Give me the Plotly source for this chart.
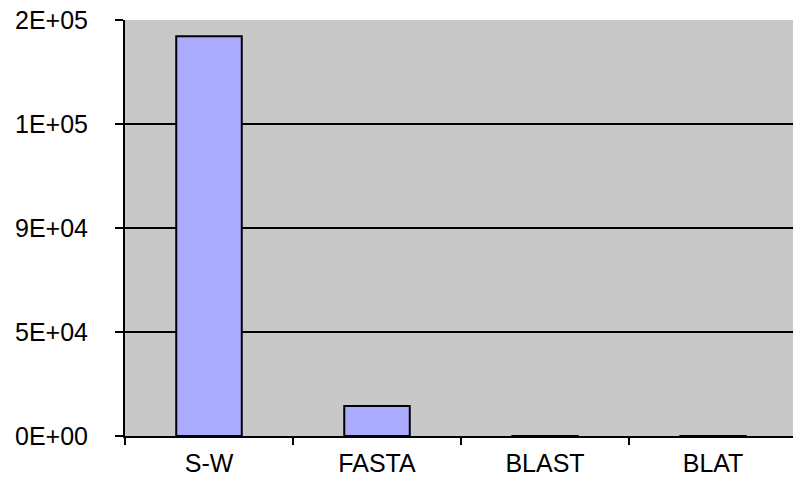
import plotly.graph_objects as go

# Search algorithm run times
algorithms = ["S-W", "FASTA", "BLAST", "BLAT"]
times = [173000, 13000, 40, 10]

# Value axis ticks, shown in scientific 0E+00 style
y_tickvals = [0, 45000, 90000, 135000, 180000]
y_ticktext = ["0E+00", "5E+04", "9E+04", "1E+05", "2E+05"]

fig = go.Figure(
    go.Bar(
        x=algorithms,
        y=times,
        width=0.39,
        marker=dict(color="#AAAAFF", line=dict(color="black", width=2)),
    )
)

fig.update_layout(
    width=793,
    height=478,
    margin=dict(l=125, r=0, t=20, b=42),
    paper_bgcolor="white",
    plot_bgcolor="#C8C8C8",
    showlegend=False,
    font=dict(family="Liberation Sans, Arial, sans-serif", size=25, color="black"),
)

fig.update_xaxes(
    range=[-0.5, 3.476],
    automargin=False,
    showline=True,
    linecolor="black",
    linewidth=2,
    ticks="outside",
    tickson="boundaries",
    ticklen=7,
    tickwidth=2,
    tickcolor="black",
    showgrid=False,
    tickfont=dict(size=25),
    ticklabelstandoff=4,
)

fig.update_yaxes(
    range=[0, 180000],
    automargin=False,
    tickvals=y_tickvals,
    ticktext=y_ticktext,
    showline=True,
    linecolor="black",
    linewidth=2,
    ticks="outside",
    ticklen=8,
    tickwidth=2,
    tickcolor="black",
    showgrid=True,
    gridcolor="black",
    gridwidth=2,
    zeroline=False,
    tickfont=dict(size=25),
    ticklabelstandoff=22,
)

fig.write_html("out.html")
